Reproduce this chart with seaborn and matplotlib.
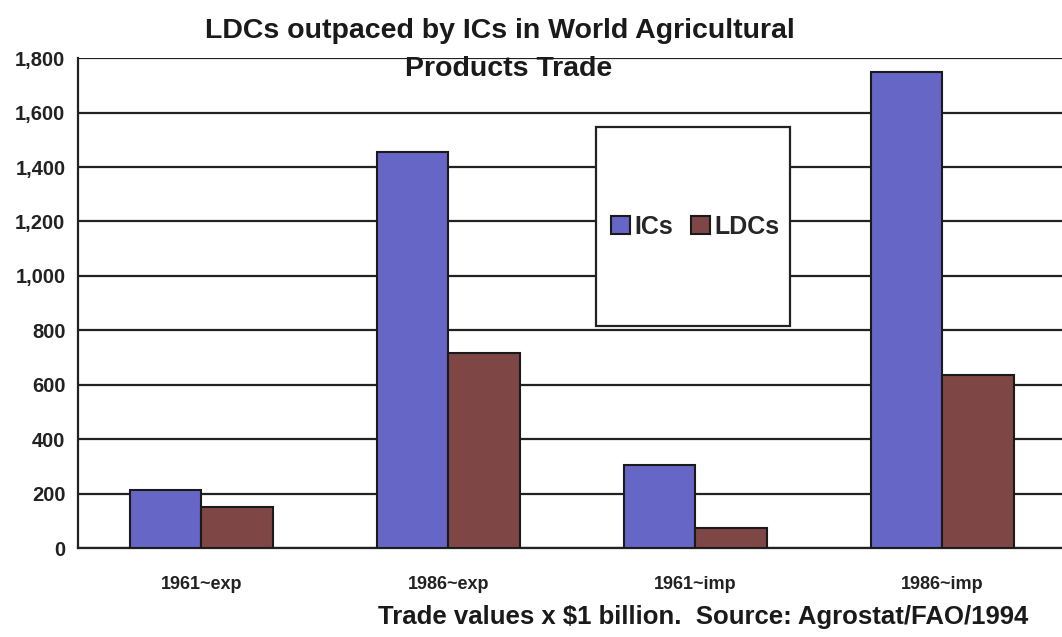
import matplotlib
matplotlib.use("Agg")
import matplotlib.pyplot as plt
from matplotlib.patches import Rectangle
import seaborn as sns
import pandas as pd

categories = ["1961~exp", "1986~exp", "1961~imp", "1986~imp"]
ics_values = [215, 1455, 305, 1750]
ldcs_values = [150, 715, 75, 635]
series_names = ["ICs", "LDCs"]
y_ticks = [0, 200, 400, 600, 800, 1000, 1200, 1400, 1600, 1800]

df = pd.DataFrame({
    "category": categories * 2,
    "value": ics_values + ldcs_values,
    "group": [series_names[0]] * len(categories) + [series_names[1]] * len(categories),
})

sns.set_theme(style="white")
plt.rcParams["font.family"] = ["Liberation Sans", "DejaVu Sans"]
plt.rcParams["font.weight"] = "bold"

fig = plt.figure(figsize=(10.62, 6.37), dpi=100)
ax = fig.add_axes([0.0734, 0.1397, 0.930, 0.769])

palette = {"ICs": "#6666c6", "LDCs": "#7f4646"}
sns.barplot(data=df, x="category", y="value", hue="group", order=categories,
            hue_order=series_names, palette=palette, width=0.58,
            edgecolor="#1a1a1a", linewidth=1.5, saturation=1, ax=ax, zorder=3)

ax.set_ylim(0, 1800)
ax.set_xlim(-0.5, 3.5)
ax.set_yticks(y_ticks)
ax.set_yticklabels([f"{v:,}" for v in y_ticks], fontsize=14.5, fontweight="bold")
for v in y_ticks:
    ax.axhline(v, color="#222222", lw=1.6, zorder=1)

ax.set_xticks(range(len(categories)))
ax.set_xticklabels(categories, fontsize=13, fontweight="bold")
ax.set_xticks([0.5, 1.5, 2.5], minor=True)
ax.tick_params(axis="x", which="major", length=0, pad=20, colors="#222222")
ax.tick_params(axis="x", which="minor", length=6, width=1.5, direction="out", color="#222222")
ax.tick_params(axis="y", length=7, width=1.5, direction="out", color="#222222", pad=2,
               labelcolor="#222222")
ax.set_xlabel("")
ax.set_ylabel("")

for side in ["top", "right"]:
    ax.spines[side].set_visible(False)
for side in ["left", "bottom"]:
    ax.spines[side].set_color("#222222")
    ax.spines[side].set_linewidth(1.6)

# Legend panel
ax.add_patch(Rectangle((0.525, 0.453), 0.196, 0.406, transform=ax.transAxes,
                       facecolor="white", edgecolor="#222222", lw=1.6, zorder=5))
handles, labels = ax.get_legend_handles_labels()
leg = ax.legend(handles, labels, loc="center", bbox_to_anchor=(0.625, 0.656),
                ncol=2, frameon=False, handlelength=0.75, handleheight=0.75,
                handletextpad=0.2, columnspacing=0.7,
                prop={"weight": "bold", "size": 18})
leg.set_zorder(6)

fig.text(0.471, 0.952, "LDCs outpaced by ICs in World Agricultural", ha="center", va="center",
         fontsize=20.5, fontweight="bold", color="#1a1a1a")
fig.text(0.479, 0.892, "Products Trade", ha="center", va="center",
         fontsize=20.5, fontweight="bold", color="#1a1a1a", zorder=10)
fig.text(0.662, 0.012, "Trade values x $1 billion.  Source: Agrostat/FAO/1994",
         ha="center", va="bottom", fontsize=18.5, fontweight="bold", color="#1a1a1a")

fig.savefig("out.png", dpi=100, facecolor="white")
